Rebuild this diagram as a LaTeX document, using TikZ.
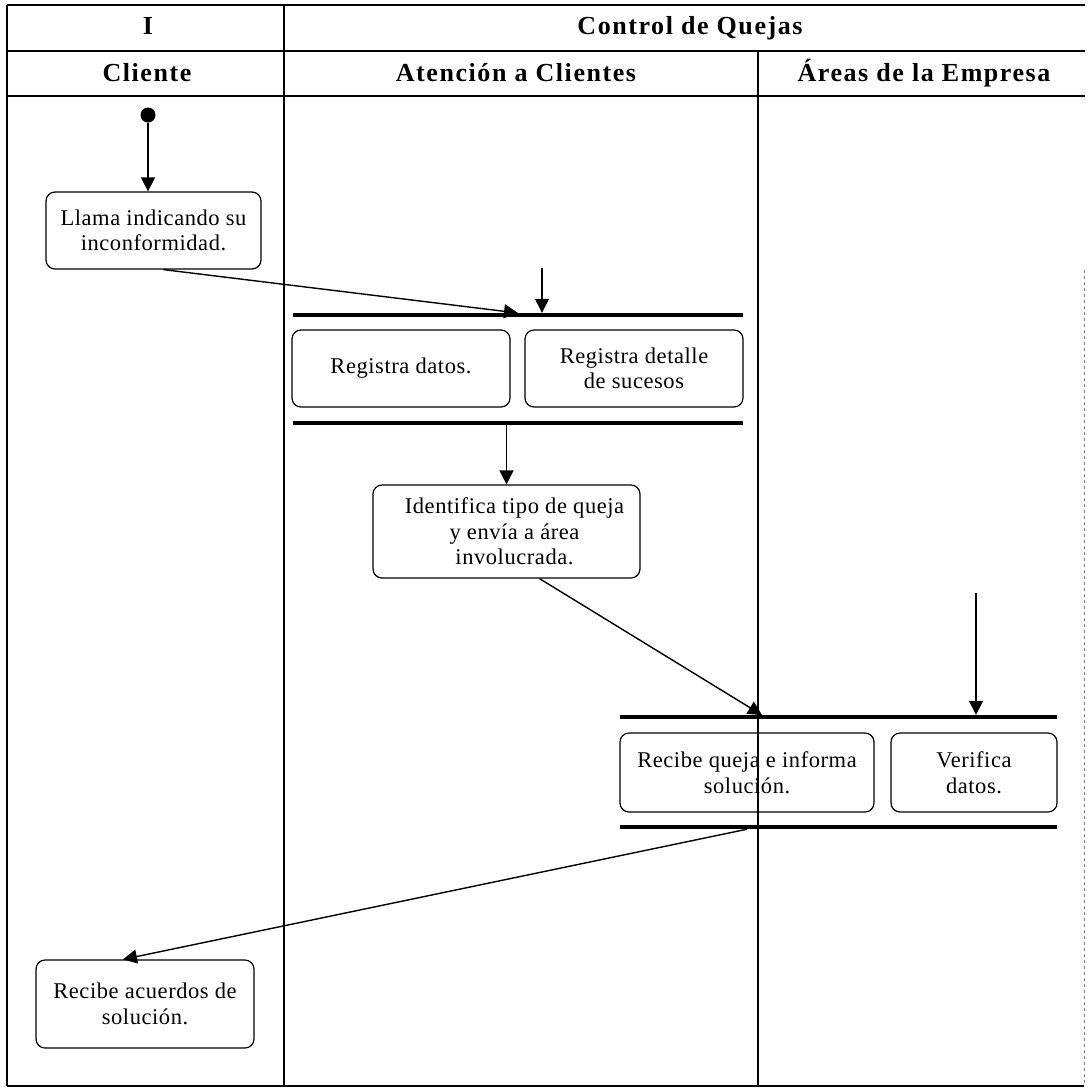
\documentclass[tikz,border=0pt]{standalone}
\usepackage{fontspec}
\setmainfont{Liberation Serif}
\newfontfamily\headfont[LetterSpace=6]{Liberation Serif}
\newfontfamily\boxfont[LetterSpace=2.5]{Liberation Serif}
\usetikzlibrary{arrows.meta}
\begin{document}
\begin{tikzpicture}[x=1pt,y=-1pt,
  lane/.style={line width=1.1pt},
  act/.style={draw, line width=1.2pt, rounded corners=9pt, align=center,
              inner sep=0pt, font=\boxfont\fontsize{22.5}{25.5}\selectfont},
  bar/.style={fill=black, inner sep=0pt, minimum height=4pt},
  flow/.style={line width=1.4pt, -{Triangle[length=14pt,width=14pt]}},
  head/.style={font=\headfont\fontsize{26}{29}\selectfont\bfseries}]

\useasboundingbox (0,0) rectangle (1089,1088);
\fill[white] (0,0) rectangle (1089,1088);

% swimlane frame
\draw[lane] (7,5) -- (1085,5);
\draw[lane] (7,51) -- (1085,51);
\draw[lane] (7,96) -- (1085,96);
\draw[lane] (7,1086) -- (1084,1086);
\draw[lane] (7,5) -- (7,1086);
\draw[lane] (284,5) -- (284,1086);
\draw[lane] (758,51) -- (758,1086);
\draw[gray, dashed, line width=0.8pt] (1084,270) -- (1084,1086);

% headers
\node[head] (hI)  at (148,26) {I};
\node[head] (hCQ) at (690,28) {Control de Quejas};
\node[head] (hCl) at (147,73) {Cliente};
\node[head] (hAt) at (516,73) {Atención a Clientes};
\node[head] (hAr) at (924,73) {Áreas de la Empresa};

% start
\node[circle, fill, minimum size=15pt, inner sep=0pt] (start) at (148,115) {};

% activities
\node[act, minimum width=215pt, minimum height=77pt] (llama) at (153.5,230.5)
  {Llama indicando su\\inconformidad.};
\node[act, minimum width=218pt, minimum height=77pt] (regdatos) at (401,368.5)
  {Registra datos.};
\node[act, minimum width=218pt, minimum height=77pt] (regdet) at (634,368.5)
  {Registra detalle\\de sucesos};
\node[act, minimum width=267pt, minimum height=93pt] (ident) at (506.5,531.5)
  {\hspace*{16pt}Identifica tipo de queja\\\hspace*{16pt}y envía a área\\\hspace*{16pt}involucrada.};
\node[act, minimum width=254pt, minimum height=79pt] (recibe) at (747,772.5)
  {Recibe queja e informa\\solución.};
\node[act, minimum width=166pt, minimum height=79pt] (verif) at (974,772.5)
  {Verifica\\datos.};
\node[act, minimum width=218pt, minimum height=88pt] (acuerdos) at (145,1004)
  {Recibe acuerdos de\\solución.};

% synchronisation bars
\node[bar, minimum width=450pt] (bar1) at (518,315) {};
\node[bar, minimum width=450pt] (bar2) at (518,423) {};
\node[bar, minimum width=437pt] (bar3) at (838.5,717) {};
\node[bar, minimum width=437pt] (bar4) at (838.5,827) {};

% join points and free arrow starts
\coordinate (j1a) at (518,313);
\coordinate (f1) at (542,268);
\coordinate (j3a) at (762,715);
\coordinate (f2) at (976,593);

% flows
\draw[flow] (start) -- (start |- llama.north);
\draw[flow] ([xshift=10pt]llama.south) -- (j1a);
\draw[flow] (f1) -- (f1 |- bar1.north);
\draw[flow] (bar2.south -| ident.north) -- (ident.north);
\draw[flow] ([xshift=33pt]ident.south) -- (j3a);
\draw[flow] (f2) -- (f2 |- bar3.north);
\draw[flow] (bar4.south -| recibe.south) -- ([xshift=-22pt]acuerdos.north);

\end{tikzpicture}
\end{document}
